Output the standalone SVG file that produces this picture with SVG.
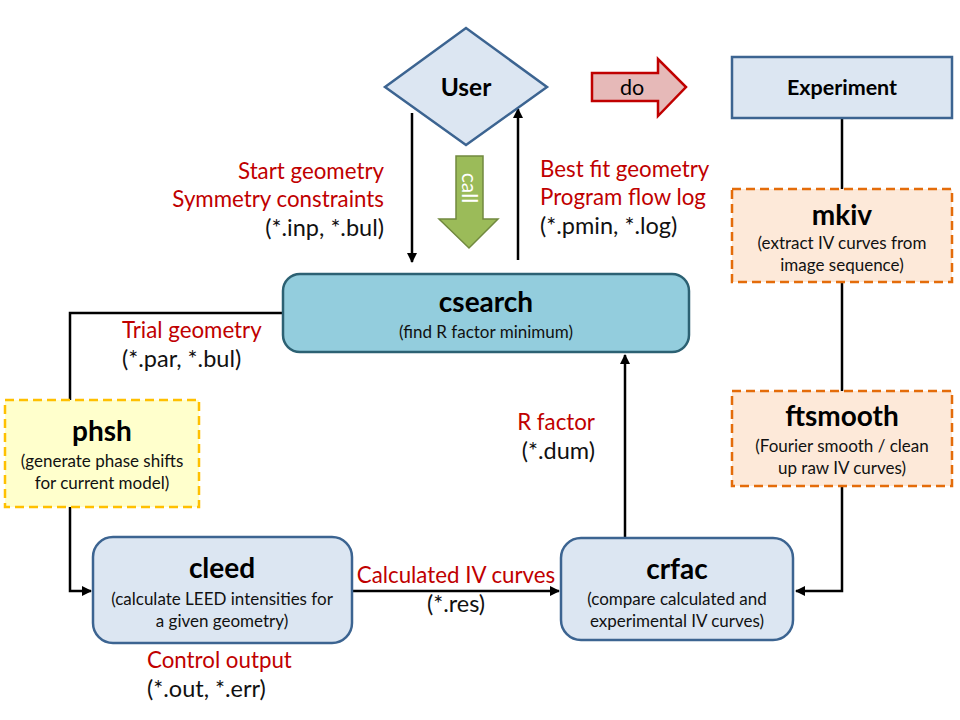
<svg xmlns="http://www.w3.org/2000/svg" width="960" height="720" viewBox="0 0 960 720">
<defs>
<marker id="ah" viewBox="0 0 10 10" refX="9" refY="5" markerWidth="4" markerHeight="4" orient="auto" markerUnits="strokeWidth">
<path d="M0,0 L10,5 L0,10 z" fill="#000"/>
</marker>
<style>
text{font-family:Lato,"Liberation Sans",sans-serif;}
.t{font-weight:bold;font-size:28px;fill:#000;text-anchor:middle;}
.s{font-size:17px;fill:#111;text-anchor:middle;}
.r{font-size:22.3px;fill:#c00000;}
.k{font-size:23.5px;fill:#111;}
.blue{fill:#dce6f2;stroke:#3c6491;stroke-width:2.5;}
.ln{fill:none;stroke:#000;stroke-width:2.5;}
.la{fill:none;stroke:#000;stroke-width:2.5;marker-end:url(#ah);}
</style>
</defs>
<rect width="960" height="720" fill="#fff"/>

<g id="connectors">
<path class="la" d="M412,113 V262"/>
<path class="la" d="M518,260 V109"/>
<path class="ln" d="M283,313 H70 V400"/>
<path class="la" d="M70,507 V591 H91"/>
<path class="la" d="M352,591 H559"/>
<path class="la" d="M625,538 V355"/>
<path class="ln" d="M842,118 V189"/>
<path class="ln" d="M842,282 V391"/>
<path class="la" d="M842,486 V591 H796"/>
</g>

<g id="labels">
<text class="r" x="384" y="179" text-anchor="end">Start geometry</text>
<text class="r" x="384" y="207" text-anchor="end">Symmetry constraints</text>
<text class="k" x="384" y="236" text-anchor="end">(*.inp, *.bul)</text>
<text class="r" x="540" y="177">Best fit geometry</text>
<text class="r" x="540" y="205">Program flow log</text>
<text class="k" x="540" y="234">(*.pmin, *.log)</text>
<text class="r" x="122" y="338">Trial geometry</text>
<text class="k" x="122" y="367">(*.par, *.bul)</text>
<text class="r" x="595" y="430" text-anchor="end">R factor</text>
<text class="k" x="595" y="459" text-anchor="end">(*.dum)</text>
<text class="r" x="456" y="583" text-anchor="middle">Calculated IV curves</text>
<text class="k" x="456" y="612" text-anchor="middle">(*.res)</text>
<text class="r" x="147" y="668">Control output</text>
<text class="k" x="147" y="697">(*.out, *.err)</text>
</g>

<g id="user">
<polygon points="385,87 466,28 547,87 466,145" class="blue"/>
<text x="466" y="96" text-anchor="middle" font-weight="bold" font-size="24.5" fill="#000">User</text>
</g>

<g id="do">
<polygon points="592,73 658,73 658,59 686,87 658,116 658,101 592,101" fill="#e6b9b8" stroke="#c00000" stroke-width="2.5"/>
<text x="632" y="95" text-anchor="middle" font-size="21.5" fill="#000">do</text>
</g>

<g id="call">
<polygon points="456,156 483,156 483,219 498,219 469,248 439,219 456,219" fill="#9bbb59" stroke="#71893f" stroke-width="1.5"/>
<text x="0" y="0" transform="translate(462,188) rotate(90)" text-anchor="middle" font-size="21" fill="#fff">call</text>
</g>

<g id="experiment">
<rect x="732" y="57" width="220" height="61" class="blue"/>
<text x="842" y="95" text-anchor="middle" font-weight="bold" font-size="21.5" fill="#000">Experiment</text>
</g>

<g id="mkiv">
<rect x="732" y="189" width="220" height="93" fill="#fde9d9" stroke="#e46c0a" stroke-width="2.5" stroke-dasharray="9,5"/>
<text class="t" x="842" y="225">mkiv</text>
<text class="s" x="842" y="249">(extract IV curves from</text>
<text class="s" x="842" y="271">image sequence)</text>
</g>

<g id="ftsmooth">
<rect x="732" y="391" width="220" height="95" fill="#fde9d9" stroke="#e46c0a" stroke-width="2.5" stroke-dasharray="9,5"/>
<text class="t" x="842" y="426">ftsmooth</text>
<text class="s" x="842" y="452">(Fourier smooth / clean</text>
<text class="s" x="842" y="474">up raw IV curves)</text>
</g>

<g id="csearch">
<rect x="283" y="274" width="406" height="78" rx="17" fill="#93cddd" stroke="#2c6173" stroke-width="2.5"/>
<text class="t" x="486" y="312">csearch</text>
<text class="s" x="486" y="338">(find R factor minimum)</text>
</g>

<g id="phsh">
<rect x="5" y="400" width="194" height="107" fill="#ffffcc" stroke="#ffc000" stroke-width="2.5" stroke-dasharray="9,5"/>
<text class="t" x="102" y="441">phsh</text>
<text class="s" x="102" y="467">(generate phase shifts</text>
<text class="s" x="102" y="489">for current model)</text>
</g>

<g id="cleed">
<rect x="93" y="537" width="259" height="106" rx="20" class="blue"/>
<text class="t" x="222" y="578">cleed</text>
<text class="s" x="222" y="605">(calculate LEED intensities for</text>
<text class="s" x="222" y="627">a given geometry)</text>
</g>

<g id="crfac">
<rect x="561" y="538" width="232" height="102" rx="20" class="blue"/>
<text class="t" x="677" y="579">crfac</text>
<text class="s" x="677" y="605">(compare calculated and</text>
<text class="s" x="677" y="627">experimental IV curves)</text>
</g>
</svg>
